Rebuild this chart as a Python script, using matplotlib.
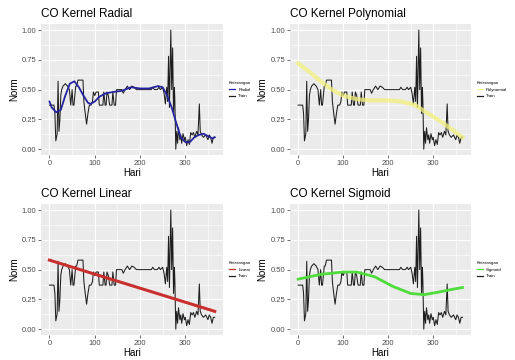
import matplotlib
matplotlib.use("Agg")
import matplotlib.pyplot as plt
from matplotlib.ticker import MultipleLocator

plt.rcParams["font.family"] = ["Liberation Sans", "DejaVu Sans"]

# train series (day, normalised CO)
train_day = [0, 10, 12, 14, 17, 19, 21, 23, 25, 27, 30, 35, 40, 44, 47, 50, 52, 54, 58,
             60, 63, 74, 76, 79, 82, 85, 88, 92, 95, 97, 100, 103, 108, 110, 118, 120,
             123, 125, 127, 130, 133, 138, 140, 143, 146, 148, 160, 163, 167, 172, 177,
             182, 187, 192, 225, 228, 232, 238, 242, 245, 250, 253, 256, 259, 261, 263,
             265, 268, 270, 272, 274, 276, 277, 279, 281, 283, 285, 288, 290, 292, 295,
             298, 300, 303, 306, 309, 312, 315, 318, 321, 325, 328, 331, 333, 336, 340,
             345, 350, 353, 356, 359, 362, 365]
train_val = [0.37, 0.37, 0.30, 0.07, 0.13, 0.57, 0.15, 0.25, 0.45, 0.50, 0.53, 0.55, 0.53,
             0.50, 0.37, 0.50, 0.37, 0.37, 0.53, 0.53, 0.58, 0.58, 0.40, 0.30, 0.21, 0.30,
             0.37, 0.37, 0.40, 0.48, 0.45, 0.48, 0.48, 0.37, 0.37, 0.48, 0.37, 0.37, 0.48,
             0.45, 0.37, 0.37, 0.48, 0.37, 0.37, 0.50, 0.50, 0.47, 0.50, 0.53, 0.50, 0.53,
             0.52, 0.50, 0.50, 0.52, 0.50, 0.50, 0.52, 0.50, 0.52, 0.47, 0.38, 0.52, 0.40,
             0.78, 0.35, 1.00, 0.50, 0.85, 0.30, 0.52, 0.40, 0.00, 0.15, 0.05, 0.18, 0.08,
             0.12, 0.05, 0.13, 0.08, 0.10, 0.03, 0.08, 0.04, 0.14, 0.12, 0.14, 0.10, 0.15,
             0.12, 0.38, 0.15, 0.12, 0.10, 0.12, 0.08, 0.12, 0.10, 0.05, 0.10, 0.10]

# fitted SVR curves
radial_day = [0, 5, 15, 25, 35, 45, 55, 65, 75, 85, 90, 100, 110, 125, 140, 160, 180, 200,
              220, 240, 250, 260, 270, 280, 290, 300, 310, 320, 330, 340, 350, 360, 365]
radial_val = [0.40, 0.35, 0.31, 0.33, 0.45, 0.55, 0.57, 0.52, 0.45, 0.39, 0.38, 0.40, 0.44,
              0.47, 0.48, 0.49, 0.52, 0.51, 0.51, 0.53, 0.52, 0.45, 0.35, 0.22, 0.10, 0.06,
              0.06, 0.10, 0.12, 0.13, 0.11, 0.09, 0.10]
poly_day = [0, 25, 50, 75, 100, 130, 160, 200, 230, 260, 280, 310, 340, 365]
poly_val = [0.72, 0.65, 0.57, 0.50, 0.45, 0.42, 0.41, 0.41, 0.40, 0.37, 0.32, 0.25, 0.17, 0.10]
linear_day = [0, 365]
linear_val = [0.58, 0.15]
sigmoid_day = [0, 50, 100, 130, 170, 210, 250, 280, 310, 350, 365]
sigmoid_val = [0.42, 0.46, 0.48, 0.48, 0.44, 0.36, 0.30, 0.29, 0.31, 0.34, 0.35]

panels = [
    ("CO Kernel Radial", "Radial", radial_day, radial_val, "#2424a0", 1.3, 1.0),
    ("CO Kernel Polynomial", "Polynomial", poly_day, poly_val, "#f2f07a", 3.0, 0.75),
    ("CO Kernel Linear", "Linear", linear_day, linear_val, "#c8302e", 2.2, 1.0),
    ("CO Kernel Sigmoid", "Sigmoid", sigmoid_day, sigmoid_val, "#4fdc3c", 2.0, 1.0),
]
boxes = [
    [0.080, 0.569, 0.353, 0.364],
    [0.563, 0.569, 0.351, 0.364],
    [0.080, 0.069, 0.353, 0.364],
    [0.563, 0.069, 0.351, 0.364],
]

fig = plt.figure(figsize=(5.15, 3.6), dpi=100)
for (title, name, fx, fy, color, lw, alpha), box in zip(panels, boxes):
    ax = fig.add_axes(box)
    ax.set_facecolor("#ebebeb")
    ax.plot(train_day, train_val, color="#1e1e1e", lw=0.75, label="Train", zorder=2)
    ax.plot(fx, fy, color=color, lw=lw, alpha=alpha, label=name, zorder=3)
    ax.set_xlim(-18.25, 383.25)
    ax.set_ylim(-0.05, 1.05)
    ax.xaxis.set_major_locator(MultipleLocator(100))
    ax.xaxis.set_minor_locator(MultipleLocator(50))
    ax.yaxis.set_major_locator(MultipleLocator(0.25))
    ax.yaxis.set_minor_locator(MultipleLocator(0.125))
    ax.yaxis.set_major_formatter(plt.FuncFormatter(lambda v, p: f"{v:.2f}"))
    ax.grid(which="major", color="white", lw=0.8)
    ax.grid(which="minor", color="white", lw=0.4)
    ax.set_axisbelow(True)
    for s in ax.spines.values():
        s.set_visible(False)
    ax.tick_params(which="major", length=2, width=0.5, color="#333333",
                   labelsize=5.5, labelcolor="#4d4d4d", pad=1.5)
    ax.tick_params(which="minor", length=0)
    ax.set_xlabel("Hari", fontsize=7, labelpad=1)
    ax.set_ylabel("Norm", fontsize=7, labelpad=2)
    ax.set_title(title, fontsize=8.5, loc="left", pad=5)
    h, l = ax.get_legend_handles_labels()
    leg = ax.legend(h[::-1], l[::-1], title="Keterangan", fontsize=3.2, title_fontsize=3.2,
                    loc="center left", bbox_to_anchor=(1.01, 0.5), frameon=False,
                    handlelength=1.5, handletextpad=0.6, labelspacing=0.6)
    for line in leg.get_lines():
        line.set_linewidth(0.9)
    leg._legend_box.align = "left"

fig.savefig("out.png", dpi=100)
